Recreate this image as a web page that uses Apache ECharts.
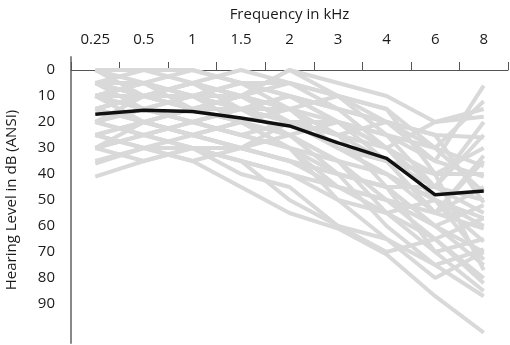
<!DOCTYPE html>
<html>
<head>
<meta charset="utf-8">
<script src="https://cdn.jsdelivr.net/npm/echarts@6/dist/echarts.min.js"></script>
<style>
  html, body { margin: 0; padding: 0; background: #fff; }
  #audiogram { width: 510px; height: 345px; }
</style>
</head>
<body>
<div id="audiogram"></div>
<script>
// frequencies (kHz) on the top axis
const freqs = ["0.25", "0.5", "1", "1.5", "2", "3", "4", "6", "8"];

// mean hearing level (black line)
const meanLevel = [17, 15.5, 16, 18.5, 21.5, 28, 34, 48, 46.5];

// individual ears (grey lines), dB HL
const ear01 = [0, 0, 5, 10, 0, 5, 10, 20, 15];
const ear02 = [5, 0, 0, 5, 5, 10, 25, 35, 6];
const ear03 = [10, 5, 0, 5, 10, 15, 20, 30, 12];
const ear04 = [5, 10, 5, 0, 5, 15, 30, 45, 25];
const ear05 = [10, 15, 10, 15, 15, 25, 30, 20, 18];
const ear06 = [15, 10, 15, 10, 20, 20, 35, 40, 40];
const ear07 = [0, 5, 10, 15, 10, 20, 25, 45, 55];
const ear08 = [5, 10, 5, 15, 20, 30, 40, 55, 33];
const ear09 = [10, 5, 15, 10, 15, 25, 45, 60, 70];
const ear10 = [15, 20, 15, 20, 25, 35, 40, 50, 60];
const ear11 = [20, 15, 20, 25, 20, 30, 35, 55, 45];
const ear12 = [20, 25, 20, 15, 25, 35, 50, 65, 80];
const ear13 = [25, 20, 25, 20, 30, 40, 45, 60, 52];
const ear14 = [10, 15, 20, 25, 30, 35, 55, 70, 65];
const ear15 = [15, 10, 10, 20, 30, 45, 50, 60, 75];
const ear16 = [25, 30, 25, 30, 35, 40, 60, 75, 87];
const ear17 = [30, 25, 20, 25, 30, 50, 65, 80, 70];
const ear18 = [30, 35, 30, 35, 40, 50, 55, 65, 57];
const ear19 = [35, 30, 35, 45, 55, 61, 71, 87, 101];
const ear20 = [41, 35, 30, 35, 50, 60, 70, 65, 82];
const ear21 = [25, 20, 15, 20, 25, 20, 25, 30, 37];
const ear22 = [20, 15, 10, 5, 10, 15, 20, 25, 26];
const ear23 = [5, 5, 10, 10, 15, 10, 15, 30, 47];
const ear24 = [10, 10, 5, 10, 20, 25, 20, 35, 41];
const ear25 = [15, 20, 25, 20, 15, 30, 40, 50, 73];
const ear26 = [30, 25, 30, 30, 35, 45, 50, 55, 61];
const ear27 = [20, 25, 30, 35, 40, 45, 55, 50, 66];
const ear28 = [36, 30, 30, 40, 45, 60, 65, 75, 69];
const ear29 = [0, 10, 15, 10, 0, 10, 20, 25, 51];
const ear30 = [5, 15, 20, 15, 10, 20, 30, 40, 77];
const ear31 = [25, 30, 35, 30, 25, 40, 45, 45, 50];
const ear32 = [10, 20, 25, 30, 20, 25, 35, 55, 35];
const ear33 = [15, 10, 5, 10, 5, 10, 15, 40, 30];
const ear34 = [30, 20, 25, 30, 35, 40, 45, 70, 85];
const ear35 = [20, 10, 15, 15, 20, 30, 35, 45, 20];
const ear36 = [10, 5, 10, 5, 15, 20, 30, 50, 57];

const ears = [ear01, ear02, ear03, ear04, ear05, ear06, ear07, ear08,
  ear09, ear10, ear11, ear12, ear13, ear14, ear15, ear16,
  ear17, ear18, ear19, ear20, ear21, ear22, ear23, ear24,
  ear25, ear26, ear27, ear28, ear29, ear30, ear31, ear32,
  ear33, ear34, ear35, ear36];

const font = "'Open Sans', 'DejaVu Sans', sans-serif";

let series = [];
for (const ear of ears) {
  series.push({
    type: "line",
    data: ear,
    symbol: "none",
    silent: true,
    lineStyle: { color: "#d9d9d9", width: 4 }
  });
}
series.push({
  name: "mean",
  type: "line",
  data: meanLevel,
  symbol: "none",
  z: 5,
  lineStyle: { color: "#111", width: 3.5 }
});

let myChart = echarts.init(document.getElementById("audiogram"));
myChart.setOption({
  animation: false,
  textStyle: { fontFamily: font },
  grid: {
    left: 71, right: 2, top: 57, bottom: 2,
    containLabel: false,
    outerBoundsMode: "none"
  },
  xAxis: {
    type: "category",
    position: "top",
    data: freqs,
    boundaryGap: true,
    name: "Frequency in kHz",
    nameLocation: "middle",
    nameGap: 35,
    nameTextStyle: { fontSize: 15, color: "#1a1a1a", fontFamily: font },
    axisLine: { lineStyle: { color: "#555", width: 1 } },
    axisTick: { show: true, length: 8, alignWithLabel: false, lineStyle: { color: "#555" } },
    axisLabel: { fontSize: 15, color: "#1a1a1a", margin: 10, fontFamily: font },
    splitLine: { show: false }
  },
  yAxis: {
    type: "value",
    inverse: true,
    min: -5,
    max: 105,
    interval: 5,
    name: "Hearing Level in dB (ANSI)",
    nameLocation: "middle",
    nameGap: 52,
    nameTextStyle: { fontSize: 15, color: "#1a1a1a", fontFamily: font },
    axisLine: { show: true, lineStyle: { color: "#888", width: 2 } },
    axisTick: { show: false },
    axisLabel: {
      fontSize: 15,
      color: "#1a1a1a",
      margin: 16,
      fontFamily: font,
      formatter: function (val) {
        return (val >= 0 && val <= 90 && val % 10 === 0) ? String(val) : "";
      }
    },
    splitLine: { show: false }
  },
  series
});
</script>
</body>
</html>
